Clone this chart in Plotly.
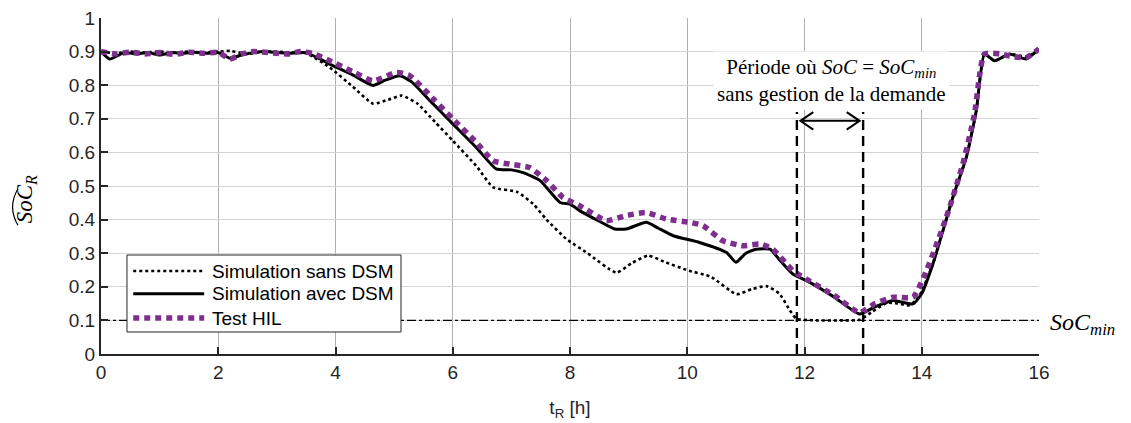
import plotly.graph_objects as go

# ---------------- data ----------------
t_sans = [0, 0.25, 0.5, 0.75, 1.0, 1.25, 1.5, 1.75, 2.0, 2.2, 2.5, 2.75, 3.0, 3.25, 3.5,
          3.9, 4.3, 4.64, 4.9, 5.13, 5.4, 5.7, 6.0, 6.4, 6.69, 7.09, 7.37, 7.6, 7.94,
          8.3, 8.79, 9.05, 9.33, 9.6, 9.99, 10.4, 10.84, 11.1, 11.35, 11.57, 11.75,
          11.86, 12.2, 12.6, 12.94, 13.15, 13.4, 13.6, 13.79, 13.95, 14.19, 14.53,
          14.76, 14.93, 15.07, 15.24, 15.5, 15.78, 16.0]
soc_sans = [0.9, 0.895, 0.9, 0.897, 0.9, 0.897, 0.9, 0.897, 0.9, 0.902, 0.893, 0.9, 0.9, 0.897, 0.895,
            0.853, 0.795, 0.745, 0.757, 0.769, 0.745, 0.69, 0.635, 0.56, 0.496, 0.483, 0.447, 0.40, 0.342,
            0.30, 0.242, 0.27, 0.293, 0.275, 0.25, 0.23, 0.178, 0.193, 0.202, 0.18, 0.13,
            0.105, 0.1, 0.1, 0.102, 0.125, 0.152, 0.15, 0.145, 0.17, 0.268, 0.466,
            0.585, 0.724, 0.893, 0.873, 0.893, 0.885, 0.905]

t_avec = [0, 0.15, 0.4, 0.6, 0.8, 1.0, 1.2, 1.4, 1.6, 1.8, 2.0, 2.2, 2.4, 2.6, 2.8, 3.0, 3.2, 3.5,
          3.9, 4.3, 4.64, 4.85, 5.1, 5.3, 5.61, 6.0, 6.4, 6.74, 7.0, 7.2, 7.49, 7.83, 8.0, 8.17,
          8.5, 8.76, 8.96, 9.3, 9.5, 9.76, 10.21, 10.67, 10.83, 11.0, 11.18, 11.41, 11.6, 11.8,
          12.09, 12.5, 12.94, 13.2, 13.51, 13.85, 14.0, 14.19, 14.53, 14.76, 14.93, 15.07,
          15.24, 15.5, 15.78, 16.0]
soc_avec = [0.9, 0.878, 0.897, 0.893, 0.897, 0.89, 0.897, 0.895, 0.898, 0.895, 0.897, 0.88, 0.89, 0.897, 0.9, 0.897, 0.895, 0.897,
            0.863, 0.83, 0.799, 0.815, 0.828, 0.81, 0.754, 0.685, 0.615, 0.551, 0.548, 0.54, 0.516, 0.451, 0.446, 0.426,
            0.395, 0.372, 0.372, 0.392, 0.375, 0.352, 0.332, 0.302, 0.273, 0.30, 0.312, 0.312, 0.275, 0.238,
            0.213, 0.17, 0.119, 0.14, 0.159, 0.149, 0.18, 0.268, 0.466, 0.585, 0.724, 0.893,
            0.873, 0.893, 0.878, 0.908]

t_hil = [0, 0.25, 0.5, 0.75, 1.0, 1.25, 1.5, 1.75, 2.0, 2.2, 2.4, 2.6, 2.85, 3.0, 3.2, 3.4, 3.6,
         3.9, 4.3, 4.64, 5.04, 5.27, 5.67, 6.0, 6.4, 6.69, 6.97, 7.31, 7.6, 7.88, 8.17, 8.62,
         8.96, 9.3, 9.64, 10.04, 10.27, 10.61, 10.95, 11.24, 11.46, 11.8, 12.03, 12.5, 12.94,
         13.2, 13.51, 13.85, 14.08, 14.42, 14.7, 14.9, 15.07, 15.33, 15.55, 15.78, 16.0]
soc_hil = [0.9, 0.893, 0.898, 0.893, 0.897, 0.892, 0.898, 0.895, 0.898, 0.878, 0.893, 0.9, 0.897, 0.895, 0.893, 0.9, 0.895,
           0.873, 0.84, 0.813, 0.838, 0.828, 0.759, 0.70, 0.63, 0.575, 0.565, 0.555, 0.516, 0.466, 0.441, 0.397,
           0.412, 0.421, 0.402, 0.392, 0.382, 0.337, 0.322, 0.327, 0.312, 0.248, 0.223, 0.175, 0.123,
           0.15, 0.169, 0.169, 0.248, 0.407, 0.565, 0.714, 0.893, 0.893, 0.885, 0.882, 0.908]

soc_min = 0.1
period = [11.87, 13.0]          # période où SoC = SoCmin sans DSM
x_ticks = [0, 2, 4, 6, 8, 10, 12, 14, 16]
y_ticks = [0, 0.1, 0.2, 0.3, 0.4, 0.5, 0.6, 0.7, 0.8, 0.9, 1]
y_ticktext = ["0", "0.1", "0.2", "0.3", "0.4", "0.5", "0.6", "0.7", "0.8", "0.9", "1"]
legend_names = ["Simulation sans DSM", "Simulation avec DSM", "Test HIL"]

PURPLE = "#7E2F8E"
AX = "#262626"
SANS = "Liberation Sans, Arial, sans-serif"
SERIF = "Liberation Serif, Times New Roman, serif"

fig = go.Figure()

# SoC_min reference line
fig.add_trace(go.Scatter(x=[0, 16], y=[soc_min, soc_min], mode="lines",
                         line=dict(color="black", width=1.4, dash="dashdot"),
                         showlegend=False, hoverinfo="skip"))

styles = [dict(color="black", width=2.6, dash="3px,3px"),
          dict(color="black", width=3),
          dict(color=PURPLE, width=5.5, dash="6px,5px")]
series = [(t_sans, soc_sans), (t_avec, soc_avec), (t_hil, soc_hil)]
for (tx, sy), st, nm in zip(series, styles, legend_names):
    fig.add_trace(go.Scatter(x=tx, y=sy, mode="lines", name=nm, line=dict(**st, shape="spline", smoothing=0.5),
                             showlegend=False))

shapes = []
# vertical dashed lines marking the period
for p in period:
    shapes.append(dict(type="line", xref="x", yref="y", x0=p, x1=p, y0=0, y1=0.72,
                       line=dict(color="black", width=2.4, dash="10px,6px"), layer="above"))
# double arrow
ya = 0.694
a0, a1 = period[0] + 0.06, period[1] - 0.06
hx, hy = 0.22, 0.026
shapes.append(dict(type="path", xref="x", yref="y",
                   path=f"M{a0},{ya} L{a1},{ya} M{a0+hx},{ya+hy} L{a0},{ya} L{a0+hx},{ya-hy} "
                        f"M{a1-hx},{ya+hy} L{a1},{ya} L{a1-hx},{ya-hy}",
                   line=dict(color="black", width=2), layer="above"))

# custom legend box
lx0, lx1, ly0, ly1 = 0.443, 5.117, 0.0655, 0.2946
shapes.append(dict(type="rect", xref="x", yref="y", x0=lx0, x1=lx1, y0=ly0, y1=ly1,
                   fillcolor="white", line=dict(color=AX, width=1), layer="above"))
row_y = [0.247, 0.179, 0.107]
for ry, st in zip(row_y, styles):
    shapes.append(dict(type="line", xref="x", yref="y", x0=0.55, x1=1.76, y0=ry, y1=ry,
                       line=st, layer="above"))

# hat over SoC in y label
shapes.append(dict(type="path", xref="paper", yref="paper",
                   path="M-0.0885,0.383 Q-0.1000,0.437 -0.0885,0.492",
                   line=dict(color="black", width=1.2)))

annotations = []
for ry, nm in zip(row_y, legend_names):
    annotations.append(dict(x=1.86, y=ry, xref="x", yref="y", text=nm, showarrow=False,
                            xanchor="left", yanchor="middle", font=dict(family=SANS, size=19, color="black")))

annotations.append(dict(x=12.46, y=0.813, xref="x", yref="y",
                        text="Période où <i>SoC</i> = <i>SoC<sub>min</sub></i><br>sans gestion de la demande",
                        showarrow=False, bgcolor="white", borderpad=3,
                        font=dict(family=SERIF, size=21, color="black")))
annotations.append(dict(x=16, y=soc_min, xref="x", yref="y", text="<i>SoC<sub>min</sub></i>",
                        showarrow=False, xanchor="left", yanchor="middle", xshift=9, yshift=-4,
                        font=dict(family=SERIF, size=24, color="black")))
annotations.append(dict(x=-0.079, y=0.46, xref="paper", yref="paper", text="<i>SoC<sub>R</sub></i>",
                        showarrow=False, textangle=-90, xanchor="center", yanchor="middle",
                        font=dict(family=SERIF, size=23, color="black")))

fig.update_layout(
    width=1131, height=423,
    margin=dict(l=101, r=92, t=18, b=69, autoexpand=False),
    paper_bgcolor="white", plot_bgcolor="white",
    showlegend=False,
    shapes=shapes, annotations=annotations,
    font=dict(family=SANS, size=19, color=AX),
)
fig.update_xaxes(range=[0, 16], tickvals=x_ticks, ticks="inside", ticklen=7, tickwidth=1.5,
                 tickcolor=AX, showline=True, linecolor=AX, linewidth=2, showgrid=True,
                 gridcolor="#b0b0b0", gridwidth=1, zeroline=False, automargin=False,
                 tickfont=dict(family=SANS, size=19, color=AX), ticklabeloverflow="allow",
                 title=dict(text="t<sub>R</sub> [h]", font=dict(family=SANS, size=19, color=AX), standoff=19))
fig.update_yaxes(range=[0, 1], tickvals=y_ticks, ticktext=y_ticktext, ticks="inside", ticklen=7,
                 tickwidth=1.5, tickcolor=AX, showline=True, linecolor=AX, linewidth=2,
                 showgrid=True, gridcolor="#d4d4d4", gridwidth=1, zeroline=False, automargin=False,
                 tickfont=dict(family=SANS, size=19, color=AX), ticklabeloverflow="allow")

# remove the default 8px page margin so the figure sits at the window's corner
fig.write_html("out.html", config={"displayModeBar": False},
               post_script="document.body.style.margin='0';")
